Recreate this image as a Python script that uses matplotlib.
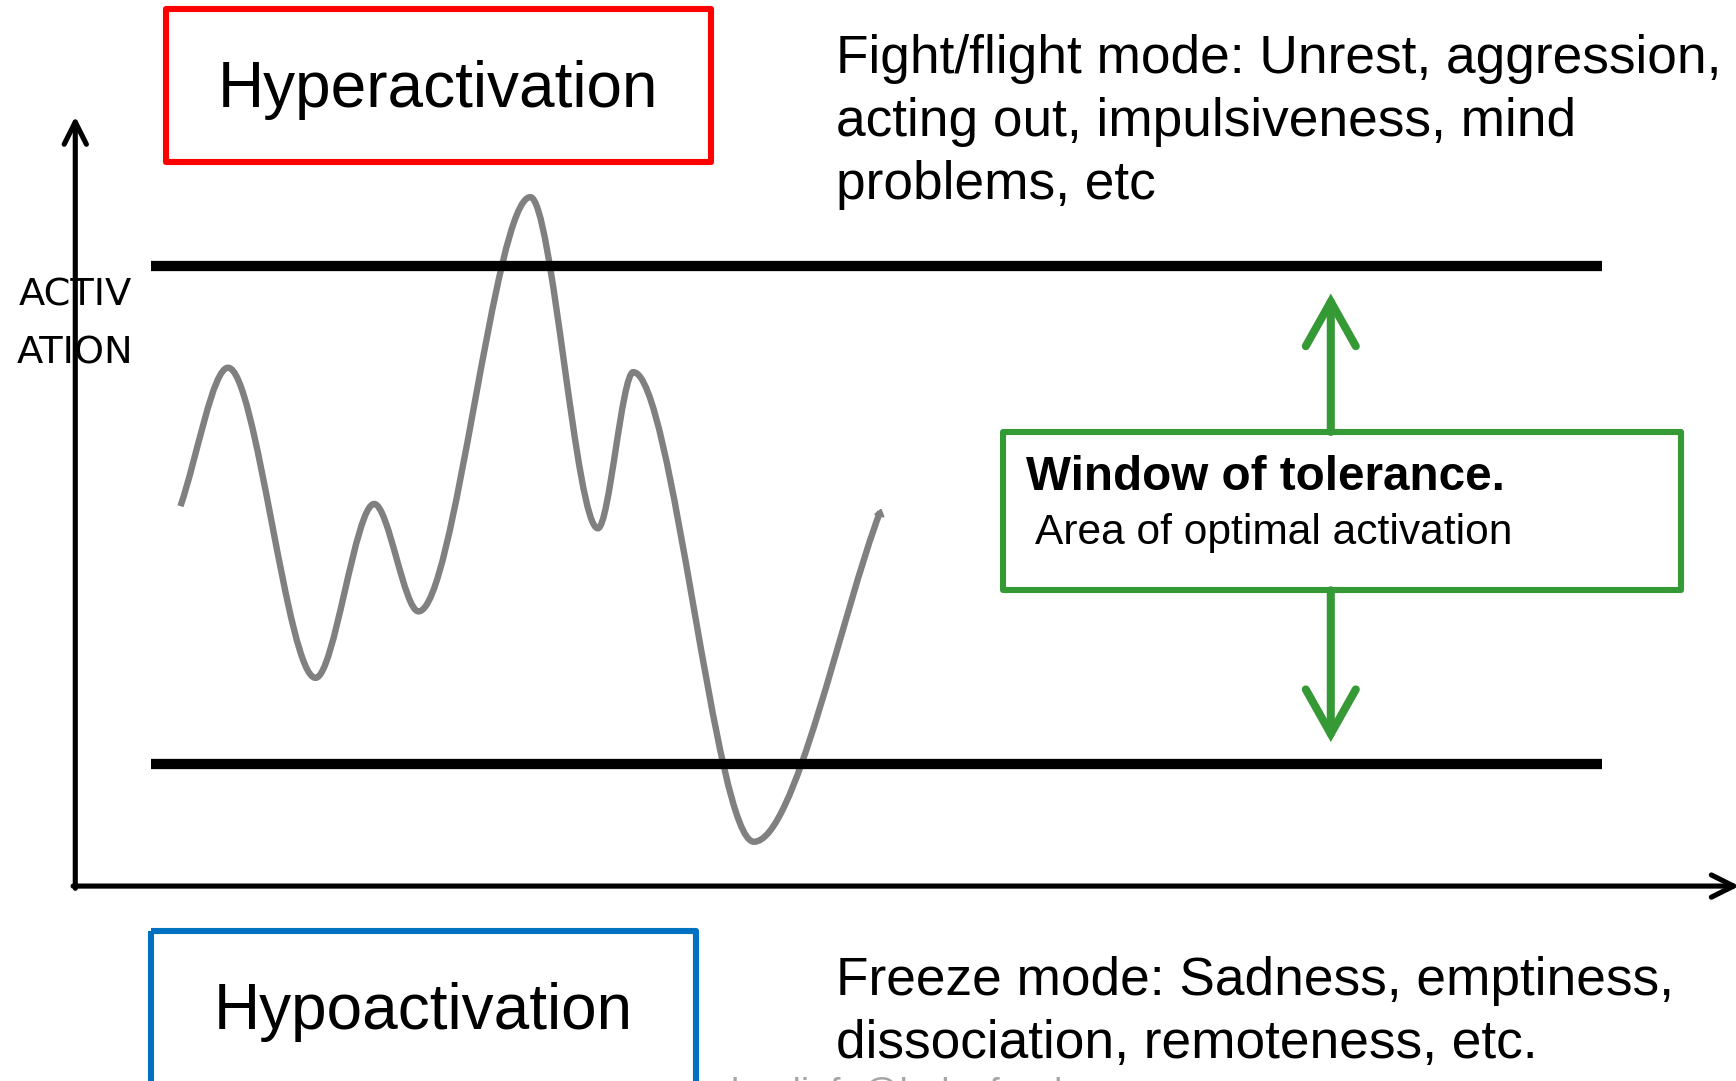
import matplotlib
matplotlib.use("Agg")
import matplotlib.pyplot as plt
from matplotlib.path import Path
from matplotlib.patches import PathPatch, Rectangle

# Data (picture coordinates, y grows downwards)
curve_x = [163, 206, 285, 338, 378, 479, 540, 572, 681, 795]
curve_y = [457, 332, 612, 455, 552, 178, 477, 336, 760, 462]

upper_limit = 240
lower_limit = 690
limit_span = [136, 1447]

top_label = "Hyperactivation"
bottom_label = "Hypoactivation"
top_text = ["Fight/flight mode: Unrest, aggression,",
            "acting out, impulsiveness, mind",
            "problems, etc"]
bottom_text = ["Freeze mode: Sadness, emptiness,",
               "dissociation, remoteness, etc."]
window_title = "Window of tolerance."
window_sub = "Area of optimal activation"
y_label = ["ACTIV", "ATION"]
footer = "landinfo@helsefonden"

W, H = 1568, 976

fig = plt.figure(figsize=(17.36, 10.81), dpi=100)
ax = fig.add_axes([0, 0, 1, 1])
ax.set_xlim(0, W)
ax.set_ylim(H, 0)
ax.axis("off")

sans = ["Liberation Sans", "DejaVu Sans"]

# Axes with open arrowheads
ax.annotate("", xy=(68, 105), xytext=(68, 802),
            arrowprops=dict(arrowstyle="->,head_length=16,head_width=8",
                            lw=3.7, color="black", mutation_scale=1,
                            shrinkA=0, shrinkB=0))
ax.annotate("", xy=(1571, 800), xytext=(66, 800),
            arrowprops=dict(arrowstyle="->,head_length=16,head_width=8",
                            lw=3.7, color="black", mutation_scale=1,
                            shrinkA=0, shrinkB=0), annotation_clip=False)

# Tolerance limits
for yy in (upper_limit, lower_limit):
    ax.plot(limit_span, [yy, yy], color="black", lw=7.4, solid_capstyle="butt")

# Activation curve, drawn as smooth bezier segments through the extrema
k = 0.32
verts = [(curve_x[0], curve_y[0])]
codes = [Path.MOVETO]
for i in range(1, len(curve_x)):
    x0, y0 = curve_x[i - 1], curve_y[i - 1]
    x1, y1 = curve_x[i], curve_y[i]
    dx = x1 - x0
    if i == 1:
        c1 = (x0 + 0.35 * dx, y0 + 0.35 * (y1 - y0))
    else:
        c1 = (x0 + k * dx, y0)
    if i == len(curve_x) - 1:
        c2 = (x1 - 0.3 * dx, y1 - 0.3 * (y1 - y0))
    else:
        c2 = (x1 - k * dx, y1)
    verts += [c1, c2, (x1, y1)]
    codes += [Path.CURVE4] * 3
ax.add_patch(PathPatch(Path(verts, codes), fill=False, edgecolor="#808080",
                       lw=4.6, capstyle="butt"))
# small head at the end of the curve
ex, ey = curve_x[-1], curve_y[-1]
ax.annotate("", xy=(ex + 1, ey - 3), xytext=(ex - 2, ey + 8),
            arrowprops=dict(arrowstyle="-|>,head_length=0.4,head_width=0.3",
                            color="#808080", lw=1.5, mutation_scale=10,
                            shrinkA=0, shrinkB=0))

# Label boxes
ax.add_patch(Rectangle((150, 8), 492, 138, fill=False, edgecolor="#FF0000",
                       lw=4.4, joinstyle="round"))
ax.text(396, 97, top_label, fontsize=46, family=sans, ha="center", va="baseline")

ax.add_patch(Rectangle((136, 841), 493, 160, fill=False, edgecolor="#0070C0",
                       lw=4.4, joinstyle="round"))
ax.text(382, 929, bottom_label, fontsize=46, family=sans, ha="center", va="baseline")

# Description texts
for i, line in enumerate(top_text):
    ax.text(755, 66 + 57 * i, line, fontsize=38.3, family=sans, va="baseline")
for i, line in enumerate(bottom_text):
    ax.text(755, 898 + 57 * i, line, fontsize=38.3, family=sans, va="baseline")

# Window of tolerance box and arrows
green = "#359A35"
ax.add_patch(Rectangle((906, 390), 612, 143, fill=False, edgecolor=green,
                       lw=4.4, joinstyle="round"))
ax.text(927, 442, window_title, fontsize=34.3, family=sans, fontweight="bold",
        va="baseline")
ax.text(935, 491, window_sub, fontsize=30.6, family=sans, va="baseline")
for tip, base in (((1202, 265), (1202, 390)), ((1202, 670), (1202, 533))):
    ax.annotate("", xy=tip, xytext=base,
                arrowprops=dict(arrowstyle="->,head_length=32,head_width=18",
                                lw=5.8, color=green, mutation_scale=1,
                                shrinkA=0, shrinkB=0, capstyle="round",
                                joinstyle="miter"))

# Y label
ax.text(68, 276, y_label[0], fontsize=27.6, family="DejaVu Sans",
        ha="center", va="baseline")
ax.text(68, 328, y_label[1], fontsize=27.6, family="DejaVu Sans",
        ha="center", va="baseline")

# Footer, mostly cut off by the bottom edge as in the original slide
ax.text(660, 997, footer, fontsize=27, family=sans, color="#A6A6A6",
        va="baseline")

fig.savefig("out.png", dpi=100)
